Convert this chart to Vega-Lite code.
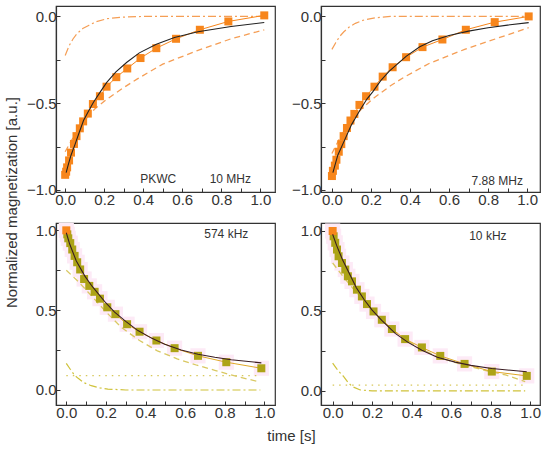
{
"$schema": "https://vega.github.io/schema/vega-lite/v6.json",
"background": "white",
"padding": {"left": 3, "top": 5, "right": 5, "bottom": 5},
"columns": 2,
"spacing": {"row": 31, "column": 46},
"bounds": "flush",
"resolve": {"scale": {"x": "independent", "y": "independent"}},
"datasets": {
"tl": [
{"s":"pts","t":0,"m":-0.913},{"s":"pts","t":0.005,"m":-0.895},{"s":"pts","t":0.01,"m":-0.87},{"s":"pts","t":0.02,"m":-0.83},{"s":"pts","t":0.03,"m":-0.785},{"s":"pts","t":0.045,"m":-0.735},{"s":"pts","t":0.058,"m":-0.69},{"s":"pts","t":0.075,"m":-0.645},{"s":"pts","t":0.092,"m":-0.605},{"s":"pts","t":0.116,"m":-0.56},{"s":"pts","t":0.142,"m":-0.505},{"s":"pts","t":0.178,"m":-0.46},{"s":"pts","t":0.212,"m":-0.405},{"s":"pts","t":0.262,"m":-0.35},{"s":"pts","t":0.318,"m":-0.3},{"s":"pts","t":0.386,"m":-0.24},{"s":"pts","t":0.467,"m":-0.183},{"s":"pts","t":0.568,"m":-0.129},{"s":"pts","t":0.69,"m":-0.077},{"s":"pts","t":0.836,"m":-0.029},{"s":"pts","t":1.02,"m":0.006},
{"s":"fit","t":0.005,"m":-0.9},{"s":"fit","t":0.017,"m":-0.85},{"s":"fit","t":0.03,"m":-0.8},{"s":"fit","t":0.051,"m":-0.736},{"s":"fit","t":0.07,"m":-0.675},{"s":"fit","t":0.094,"m":-0.6},{"s":"fit","t":0.12,"m":-0.545},{"s":"fit","t":0.145,"m":-0.495},{"s":"fit","t":0.18,"m":-0.435},{"s":"fit","t":0.213,"m":-0.38},{"s":"fit","t":0.26,"m":-0.32},{"s":"fit","t":0.316,"m":-0.264},{"s":"fit","t":0.38,"m":-0.21},{"s":"fit","t":0.467,"m":-0.16},{"s":"fit","t":0.56,"m":-0.122},{"s":"fit","t":0.68,"m":-0.088},{"s":"fit","t":0.85,"m":-0.058},{"s":"fit","t":1.02,"m":-0.035},
{"s":"dash","t":0,"m":-0.78},{"s":"dash","t":0.05,"m":-0.68},{"s":"dash","t":0.1,"m":-0.6},{"s":"dash","t":0.15,"m":-0.535},{"s":"dash","t":0.215,"m":-0.476},{"s":"dash","t":0.3,"m":-0.41},{"s":"dash","t":0.37,"m":-0.36},{"s":"dash","t":0.5,"m":-0.275},{"s":"dash","t":0.677,"m":-0.197},{"s":"dash","t":0.85,"m":-0.129},{"s":"dash","t":1.02,"m":-0.077},
{"s":"dashdot","t":0,"m":-0.225},{"s":"dashdot","t":0.02,"m":-0.17},{"s":"dashdot","t":0.04,"m":-0.13},{"s":"dashdot","t":0.06,"m":-0.1},{"s":"dashdot","t":0.09,"m":-0.07},{"s":"dashdot","t":0.12,"m":-0.052},{"s":"dashdot","t":0.16,"m":-0.03},{"s":"dashdot","t":0.215,"m":-0.013},{"s":"dashdot","t":0.3,"m":-0.004},{"s":"dashdot","t":0.4,"m":0},{"s":"dashdot","t":1.02,"m":0},
{"s":"lab","t":0.477,"m":-0.937,"txt":"PKWC"},{"s":"lab","t":0.846,"m":-0.937,"txt":"10 MHz"}
],
"tr": [
{"s":"pts","t":0,"m":-0.92},{"s":"pts","t":0.005,"m":-0.89},{"s":"pts","t":0.015,"m":-0.86},{"s":"pts","t":0.023,"m":-0.826},{"s":"pts","t":0.035,"m":-0.78},{"s":"pts","t":0.048,"m":-0.736},{"s":"pts","t":0.06,"m":-0.69},{"s":"pts","t":0.077,"m":-0.643},{"s":"pts","t":0.095,"m":-0.6},{"s":"pts","t":0.115,"m":-0.562},{"s":"pts","t":0.141,"m":-0.51},{"s":"pts","t":0.175,"m":-0.46},{"s":"pts","t":0.218,"m":-0.405},{"s":"pts","t":0.26,"m":-0.347},{"s":"pts","t":0.311,"m":-0.293},{"s":"pts","t":0.38,"m":-0.235},{"s":"pts","t":0.464,"m":-0.177},{"s":"pts","t":0.566,"m":-0.133},{"s":"pts","t":0.686,"m":-0.077},{"s":"pts","t":0.834,"m":-0.033},{"s":"pts","t":1.008,"m":0},
{"s":"fit","t":0.005,"m":-0.9},{"s":"fit","t":0.03,"m":-0.8},{"s":"fit","t":0.07,"m":-0.7},{"s":"fit","t":0.1,"m":-0.625},{"s":"fit","t":0.141,"m":-0.545},{"s":"fit","t":0.18,"m":-0.475},{"s":"fit","t":0.209,"m":-0.435},{"s":"fit","t":0.25,"m":-0.37},{"s":"fit","t":0.294,"m":-0.315},{"s":"fit","t":0.38,"m":-0.23},{"s":"fit","t":0.45,"m":-0.175},{"s":"fit","t":0.515,"m":-0.14},{"s":"fit","t":0.6,"m":-0.11},{"s":"fit","t":0.7,"m":-0.085},{"s":"fit","t":0.8,"m":-0.065},{"s":"fit","t":0.9,"m":-0.05},{"s":"fit","t":1.008,"m":-0.036},
{"s":"dash","t":0,"m":-0.79},{"s":"dash","t":0.05,"m":-0.68},{"s":"dash","t":0.1,"m":-0.6},{"s":"dash","t":0.15,"m":-0.535},{"s":"dash","t":0.215,"m":-0.47},{"s":"dash","t":0.3,"m":-0.4},{"s":"dash","t":0.37,"m":-0.35},{"s":"dash","t":0.5,"m":-0.27},{"s":"dash","t":0.68,"m":-0.19},{"s":"dash","t":0.85,"m":-0.125},{"s":"dash","t":1.008,"m":-0.065},
{"s":"dashdot","t":0,"m":-0.19},{"s":"dashdot","t":0.02,"m":-0.15},{"s":"dashdot","t":0.04,"m":-0.115},{"s":"dashdot","t":0.06,"m":-0.09},{"s":"dashdot","t":0.09,"m":-0.06},{"s":"dashdot","t":0.12,"m":-0.04},{"s":"dashdot","t":0.16,"m":-0.022},{"s":"dashdot","t":0.22,"m":-0.008},{"s":"dashdot","t":0.3,"m":0},{"s":"dashdot","t":1.008,"m":0},
{"s":"lab","t":0.847,"m":-0.948,"txt":"7.88 MHz"}
],
"bl": [
{"s":"pt0","t":0,"m":1.0},
{"s":"pts","t":0.005,"m":0.975},{"s":"pts","t":0.01,"m":0.95},{"s":"pts","t":0.02,"m":0.92},{"s":"pts","t":0.03,"m":0.88},{"s":"pts","t":0.042,"m":0.84},{"s":"pts","t":0.055,"m":0.8},{"s":"pts","t":0.07,"m":0.755},{"s":"pts","t":0.09,"m":0.695},{"s":"pts","t":0.116,"m":0.652},{"s":"pts","t":0.143,"m":0.615},{"s":"pts","t":0.17,"m":0.572},{"s":"pts","t":0.207,"m":0.518},{"s":"pts","t":0.248,"m":0.475},{"s":"pts","t":0.307,"m":0.412},{"s":"pts","t":0.37,"m":0.365},{"s":"pts","t":0.455,"m":0.31},{"s":"pts","t":0.547,"m":0.262},{"s":"pts","t":0.665,"m":0.214},{"s":"pts","t":0.808,"m":0.174},{"s":"pts","t":0.985,"m":0.136},
{"s":"fit","t":0,"m":0.985},{"s":"fit","t":0.017,"m":0.914},{"s":"fit","t":0.05,"m":0.81},{"s":"fit","t":0.093,"m":0.715},{"s":"fit","t":0.13,"m":0.65},{"s":"fit","t":0.16,"m":0.605},{"s":"fit","t":0.2,"m":0.545},{"s":"fit","t":0.244,"m":0.488},{"s":"fit","t":0.3,"m":0.43},{"s":"fit","t":0.362,"m":0.372},{"s":"fit","t":0.43,"m":0.325},{"s":"fit","t":0.497,"m":0.287},{"s":"fit","t":0.58,"m":0.25},{"s":"fit","t":0.665,"m":0.224},{"s":"fit","t":0.75,"m":0.205},{"s":"fit","t":0.833,"m":0.189},{"s":"fit","t":0.985,"m":0.17},
{"s":"dash","t":0,"m":0.75},{"s":"dash","t":0.06,"m":0.68},{"s":"dash","t":0.12,"m":0.6},{"s":"dash","t":0.2,"m":0.49},{"s":"dash","t":0.28,"m":0.39},{"s":"dash","t":0.37,"m":0.31},{"s":"dash","t":0.46,"m":0.245},{"s":"dash","t":0.56,"m":0.195},{"s":"dash","t":0.66,"m":0.155},{"s":"dash","t":0.75,"m":0.123},{"s":"dash","t":0.83,"m":0.095},{"s":"dash","t":0.97,"m":0.052},
{"s":"dot","t":0,"m":0.09},{"s":"dot","t":0.98,"m":0.09},
{"s":"dashdot","t":0,"m":0.167},{"s":"dashdot","t":0.02,"m":0.13},{"s":"dashdot","t":0.04,"m":0.095},{"s":"dashdot","t":0.06,"m":0.073},{"s":"dashdot","t":0.09,"m":0.045},{"s":"dashdot","t":0.126,"m":0.027},{"s":"dashdot","t":0.17,"m":0.013},{"s":"dashdot","t":0.21,"m":0.006},{"s":"dashdot","t":0.3,"m":0},{"s":"dashdot","t":0.98,"m":0},
{"s":"lab","t":0.808,"m":0.975,"txt":"574 kHz"}
],
"br": [
{"s":"pt0","t":0,"m":1.0},
{"s":"pts","t":0.005,"m":0.967},{"s":"pts","t":0.013,"m":0.926},{"s":"pts","t":0.022,"m":0.884},{"s":"pts","t":0.03,"m":0.842},{"s":"pts","t":0.047,"m":0.8},{"s":"pts","t":0.064,"m":0.759},{"s":"pts","t":0.077,"m":0.717},{"s":"pts","t":0.098,"m":0.685},{"s":"pts","t":0.123,"m":0.633},{"s":"pts","t":0.148,"m":0.591},{"s":"pts","t":0.174,"m":0.543},{"s":"pts","t":0.207,"m":0.497},{"s":"pts","t":0.249,"m":0.445},{"s":"pts","t":0.3,"m":0.387},{"s":"pts","t":0.367,"m":0.324},{"s":"pts","t":0.452,"m":0.272},{"s":"pts","t":0.545,"m":0.219},{"s":"pts","t":0.668,"m":0.169},{"s":"pts","t":0.806,"m":0.121},{"s":"pts","t":0.983,"m":0.094},
{"s":"fit","t":0,"m":0.98},{"s":"fit","t":0.02,"m":0.91},{"s":"fit","t":0.05,"m":0.82},{"s":"fit","t":0.082,"m":0.74},{"s":"fit","t":0.12,"m":0.645},{"s":"fit","t":0.16,"m":0.57},{"s":"fit","t":0.2,"m":0.505},{"s":"fit","t":0.25,"m":0.44},{"s":"fit","t":0.317,"m":0.36},{"s":"fit","t":0.38,"m":0.305},{"s":"fit","t":0.452,"m":0.255},{"s":"fit","t":0.53,"m":0.21},{"s":"fit","t":0.62,"m":0.18},{"s":"fit","t":0.7,"m":0.16},{"s":"fit","t":0.806,"m":0.14},{"s":"fit","t":0.983,"m":0.12},
{"s":"dash","t":0,"m":0.8},{"s":"dash","t":0.05,"m":0.72},{"s":"dash","t":0.1,"m":0.645},{"s":"dash","t":0.15,"m":0.575},{"s":"dash","t":0.2,"m":0.5},{"s":"dash","t":0.25,"m":0.44},{"s":"dash","t":0.3,"m":0.385},{"s":"dash","t":0.37,"m":0.32},{"s":"dash","t":0.45,"m":0.26},{"s":"dash","t":0.55,"m":0.205},{"s":"dash","t":0.64,"m":0.17},{"s":"dash","t":0.705,"m":0.15},{"s":"dash","t":0.8,"m":0.12},{"s":"dash","t":0.875,"m":0.1},{"s":"dash","t":0.975,"m":0.058},
{"s":"dot","t":0,"m":0.036},{"s":"dot","t":0.975,"m":0.036},
{"s":"dashdot","t":0,"m":0.174},{"s":"dashdot","t":0.02,"m":0.14},{"s":"dashdot","t":0.04,"m":0.11},{"s":"dashdot","t":0.056,"m":0.09},{"s":"dashdot","t":0.08,"m":0.05},{"s":"dashdot","t":0.1,"m":0.027},{"s":"dashdot","t":0.14,"m":0.006},{"s":"dashdot","t":0.2,"m":0},{"s":"dashdot","t":0.975,"m":0},
{"s":"lab","t":0.786,"m":0.967,"txt":"10 kHz"}
]
},
"concat": [
{
"width": 219, "height": 186,
"data": {"name": "tl"},
"encoding": {
"x": {"field": "t", "type": "quantitative", "scale": {"domain": [-0.047, 1.075], "nice": false, "zero": false}, "axis": {"values": [0,0.1,0.2,0.3,0.4,0.5,0.6,0.7,0.8,0.9,1.0], "format": ".1f", "labelExpr": "abs(datum.value*5-round(datum.value*5))<0.01 ? datum.label : ''", "title": null}},
"y": {"field": "m", "type": "quantitative", "scale": {"domain": [-1.012, 0.06], "nice": false, "zero": false}, "axis": {"values": [-1,-0.75,-0.5,-0.25,0], "format": ".1f", "labelExpr": "abs(datum.value*2-round(datum.value*2))<0.01 ? datum.label : ''", "title": "Normalized magnetization [a.u.]", "titleY": 196, "titlePadding": 7}}
},
"layer": [
{"transform": [{"filter": "datum.s==='dashdot'"}], "mark": {"type": "line", "color": "#F59E55", "strokeWidth": 1.2, "strokeDash": [8,3,2,3]}},
{"transform": [{"filter": "datum.s==='dash'"}], "mark": {"type": "line", "color": "#F59E55", "strokeWidth": 1.3, "strokeDash": [6,4]}},
{"transform": [{"filter": "datum.s==='pts'"}], "mark": {"type": "line", "color": "#F7861C", "strokeWidth": 1}},
{"transform": [{"filter": "datum.s==='pts'"}], "mark": {"type": "point", "shape": "square", "filled": true, "size": 64, "color": "#F7861C", "opacity": 1}},
{"transform": [{"filter": "datum.s==='fit'"}], "mark": {"type": "line", "color": "#222222", "strokeWidth": 1.1}},
{"transform": [{"filter": "datum.s==='lab'"}], "mark": {"type": "text", "font": "Liberation Sans", "fontSize": 12, "color": "#333333"}, "encoding": {"text": {"field": "txt"}}}
]
},
{
"width": 219, "height": 186,
"data": {"name": "tr"},
"encoding": {
"x": {"field": "t", "type": "quantitative", "scale": {"domain": [-0.056, 1.066], "nice": false, "zero": false}, "axis": {"values": [0,0.1,0.2,0.3,0.4,0.5,0.6,0.7,0.8,0.9,1.0], "format": ".1f", "labelExpr": "abs(datum.value*5-round(datum.value*5))<0.01 ? datum.label : ''", "title": null}},
"y": {"field": "m", "type": "quantitative", "scale": {"domain": [-1.012, 0.06], "nice": false, "zero": false}, "axis": {"values": [-1,-0.75,-0.5,-0.25,0], "format": ".1f", "labelExpr": "abs(datum.value*2-round(datum.value*2))<0.01 ? datum.label : ''", "title": null}}
},
"layer": [
{"transform": [{"filter": "datum.s==='dashdot'"}], "mark": {"type": "line", "color": "#F59E55", "strokeWidth": 1.2, "strokeDash": [8,3,2,3]}},
{"transform": [{"filter": "datum.s==='dash'"}], "mark": {"type": "line", "color": "#F59E55", "strokeWidth": 1.3, "strokeDash": [6,4]}},
{"transform": [{"filter": "datum.s==='pts'"}], "mark": {"type": "line", "color": "#F7861C", "strokeWidth": 1}},
{"transform": [{"filter": "datum.s==='pts'"}], "mark": {"type": "point", "shape": "square", "filled": true, "size": 64, "color": "#F7861C", "opacity": 1}},
{"transform": [{"filter": "datum.s==='fit'"}], "mark": {"type": "line", "color": "#222222", "strokeWidth": 1.1}},
{"transform": [{"filter": "datum.s==='lab'"}], "mark": {"type": "text", "font": "Liberation Sans", "fontSize": 12, "color": "#333333"}, "encoding": {"text": {"field": "txt"}}}
]
},
{
"width": 219, "height": 182,
"data": {"name": "bl"},
"encoding": {
"x": {"field": "t", "type": "quantitative", "scale": {"domain": [-0.052, 1.054], "nice": false, "zero": false}, "axis": {"values": [0,0.1,0.2,0.3,0.4,0.5,0.6,0.7,0.8,0.9,1.0], "format": ".1f", "labelExpr": "abs(datum.value*5-round(datum.value*5))<0.01 ? datum.label : ''", "title": "time [s]", "titleX": 235, "titlePadding": 8}},
"y": {"field": "m", "type": "quantitative", "scale": {"domain": [-0.094, 1.046], "nice": false, "zero": false}, "axis": {"values": [0,0.25,0.5,0.75,1], "format": ".1f", "labelExpr": "abs(datum.value*2-round(datum.value*2))<0.01 ? datum.label : ''", "title": null}}
},
"layer": [
{"transform": [{"filter": "datum.s==='pts' || datum.s==='pt0'"}], "mark": {"type": "point", "shape": "square", "filled": true, "size": 230, "color": "#FDEAF6", "opacity": 1}},
{"transform": [{"filter": "datum.s==='dashdot'"}], "mark": {"type": "line", "color": "#CFC23A", "strokeWidth": 1.2, "strokeDash": [8,3,2,3]}},
{"transform": [{"filter": "datum.s==='dot'"}], "mark": {"type": "line", "color": "#D8C85A", "strokeWidth": 1.2, "strokeDash": [1.5,5]}},
{"transform": [{"filter": "datum.s==='dash'"}], "mark": {"type": "line", "color": "#D9C862", "strokeWidth": 1.3, "strokeDash": [6,4]}},
{"transform": [{"filter": "datum.s==='pts' || datum.s==='pt0'"}], "mark": {"type": "line", "color": "#E0A828", "strokeWidth": 1}},
{"transform": [{"filter": "datum.s==='pts'"}], "mark": {"type": "point", "shape": "square", "filled": true, "size": 64, "color": "#ADA317", "opacity": 1}},
{"transform": [{"filter": "datum.s==='pt0'"}], "mark": {"type": "point", "shape": "square", "filled": true, "size": 64, "color": "#F7861C", "opacity": 1}},
{"transform": [{"filter": "datum.s==='fit'"}], "mark": {"type": "line", "color": "#3A1C22", "strokeWidth": 1.1}},
{"transform": [{"filter": "datum.s==='lab'"}], "mark": {"type": "text", "font": "Liberation Sans", "fontSize": 12, "color": "#333333"}, "encoding": {"text": {"field": "txt"}}}
]
},
{
"width": 219, "height": 182,
"data": {"name": "br"},
"encoding": {
"x": {"field": "t", "type": "quantitative", "scale": {"domain": [-0.059, 1.05], "nice": false, "zero": false}, "axis": {"values": [0,0.1,0.2,0.3,0.4,0.5,0.6,0.7,0.8,0.9,1.0], "format": ".1f", "labelExpr": "abs(datum.value*5-round(datum.value*5))<0.01 ? datum.label : ''", "title": null}},
"y": {"field": "m", "type": "quantitative", "scale": {"domain": [-0.088, 1.05], "nice": false, "zero": false}, "axis": {"values": [0,0.25,0.5,0.75,1], "format": ".1f", "labelExpr": "abs(datum.value*2-round(datum.value*2))<0.01 ? datum.label : ''", "title": null}}
},
"layer": [
{"transform": [{"filter": "datum.s==='pts' || datum.s==='pt0'"}], "mark": {"type": "point", "shape": "square", "filled": true, "size": 230, "color": "#FDEAF6", "opacity": 1}},
{"transform": [{"filter": "datum.s==='dashdot'"}], "mark": {"type": "line", "color": "#CFC23A", "strokeWidth": 1.2, "strokeDash": [8,3,2,3]}},
{"transform": [{"filter": "datum.s==='dot'"}], "mark": {"type": "line", "color": "#D8C85A", "strokeWidth": 1.2, "strokeDash": [1.5,5]}},
{"transform": [{"filter": "datum.s==='dash'"}], "mark": {"type": "line", "color": "#D9C862", "strokeWidth": 1.3, "strokeDash": [6,4]}},
{"transform": [{"filter": "datum.s==='pts' || datum.s==='pt0'"}], "mark": {"type": "line", "color": "#E0A828", "strokeWidth": 1}},
{"transform": [{"filter": "datum.s==='pts'"}], "mark": {"type": "point", "shape": "square", "filled": true, "size": 64, "color": "#ADA317", "opacity": 1}},
{"transform": [{"filter": "datum.s==='pt0'"}], "mark": {"type": "point", "shape": "square", "filled": true, "size": 64, "color": "#F7861C", "opacity": 1}},
{"transform": [{"filter": "datum.s==='fit'"}], "mark": {"type": "line", "color": "#3A1C22", "strokeWidth": 1.1}},
{"transform": [{"filter": "datum.s==='lab'"}], "mark": {"type": "text", "font": "Liberation Sans", "fontSize": 12, "color": "#333333"}, "encoding": {"text": {"field": "txt"}}}
]
}
],
"config": {
"view": {"stroke": "#333333", "strokeWidth": 1.2},
"axis": {"grid": false, "domainColor": "#333333", "domainWidth": 1.2, "tickColor": "#333333", "tickSize": -4, "tickWidth": 1, "labelFont": "Liberation Sans", "labelFontSize": 15, "labelColor": "#333333", "labelPadding": 4, "labelOverlap": false, "labelFlush": false, "titleFont": "Liberation Sans", "titleFontSize": 15, "titleFontWeight": "normal", "titleColor": "#333333"}
}
}
